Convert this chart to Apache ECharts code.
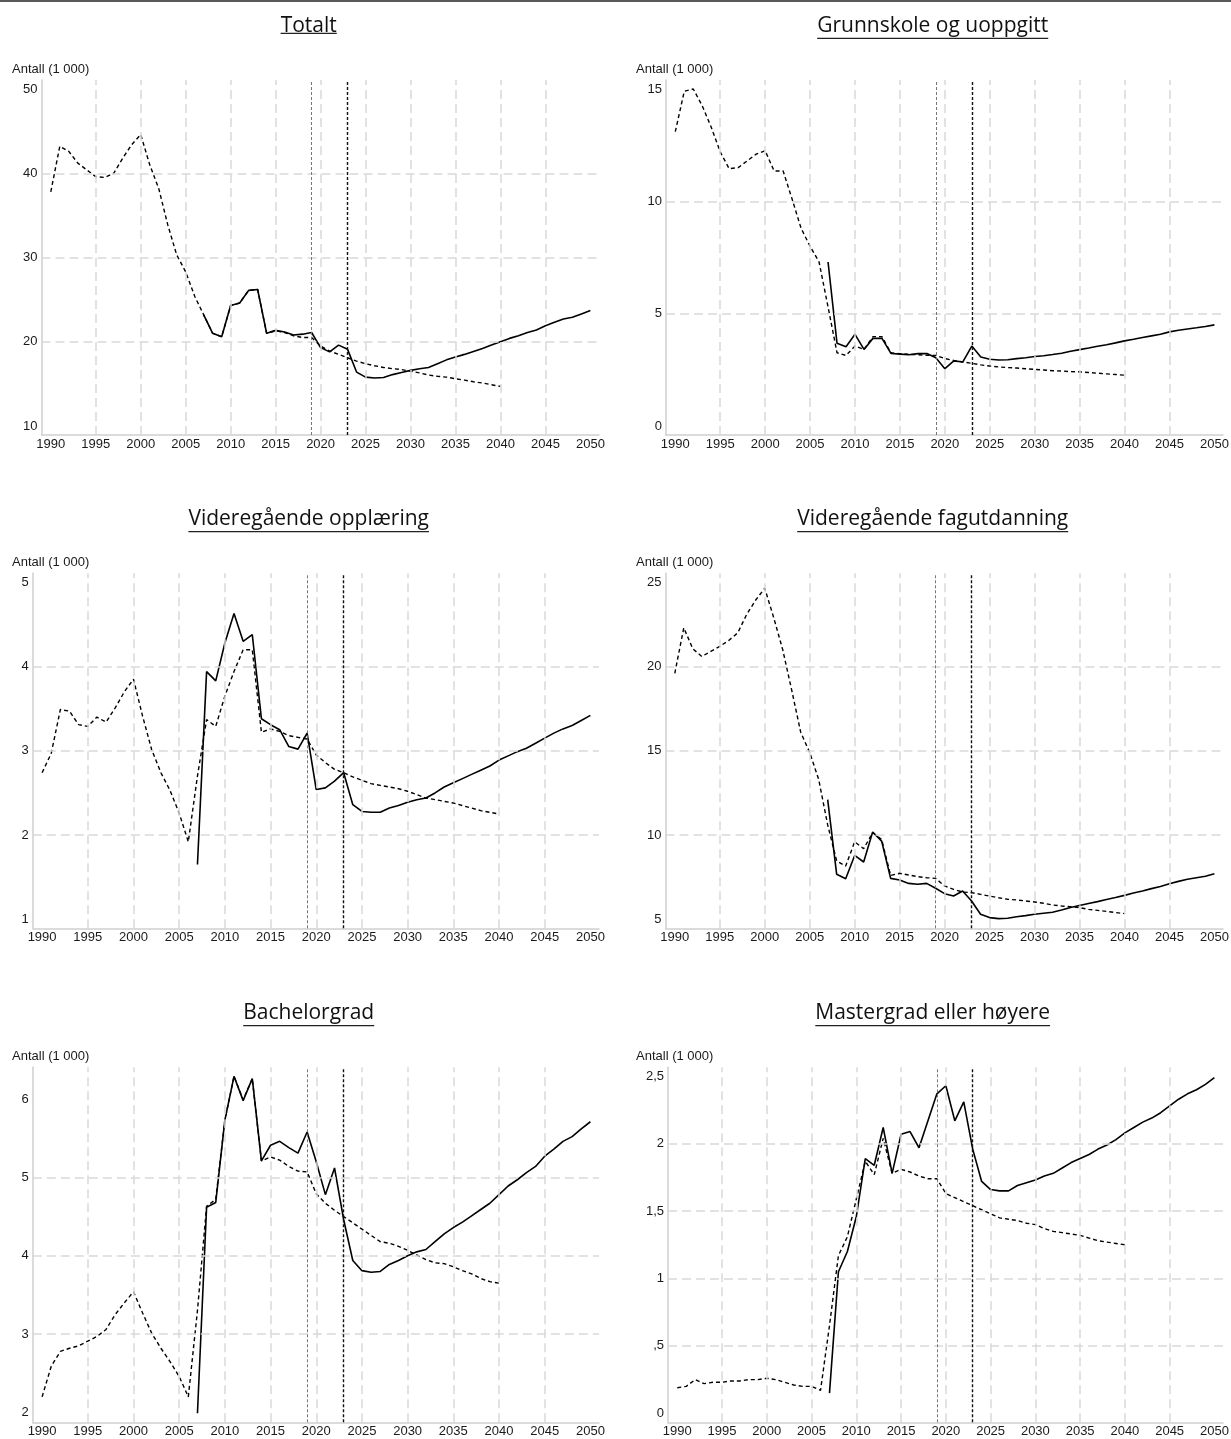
<!DOCTYPE html>
<html><head><meta charset="utf-8">
<script src="https://cdn.jsdelivr.net/npm/echarts@6/dist/echarts.min.js"></script>
<style>html,body{margin:0;padding:0;background:#fff}#c{width:1231px;height:1439px}</style>
</head><body><div id="c"></div>
<script>
// ---------- DATA ----------
const dashedYears = [1990,1991,1992,1993,1994,1995,1996,1997,1998,1999,2000,2001,2002,2003,2004,2005,2006,2007,2008,2009,2010,2011,2012,2013,2014,2015,2016,2017,2018,2019,2020,2021,2022,2023,2024,2025,2026,2027,2028,2029,2030,2031,2032,2033,2034,2035,2036,2037,2038,2039,2040];
const solidYears = [2007,2008,2009,2010,2011,2012,2013,2014,2015,2016,2017,2018,2019,2020,2021,2022,2023,2024,2025,2026,2027,2028,2029,2030,2031,2032,2033,2034,2035,2036,2037,2038,2039,2040,2041,2042,2043,2044,2045,2046,2047,2048,2049,2050];
const xTickLabels = [1990,1995,2000,2005,2010,2015,2020,2025,2030,2035,2040,2045,2050];
const xGridYears = [1995,2000,2005,2010,2015,2020,2025,2030,2035,2040,2045];
const refYears = [2019, 2023];
const titles = ['Totalt','Grunnskole og uoppgitt','Videregående opplæring','Videregående fagutdanning','Bachelorgrad','Mastergrad eller høyere'];
const yAxisName = 'Antall (1 000)';

const totaltTicks = [10,20,30,40,50];
const totaltDashed = [37.8,43.2,42.6,41.2,40.4,39.6,39.5,40.0,41.8,43.4,44.6,41.0,38.2,33.9,30.3,28.3,25.4,23.2,21.0,20.6,24.3,24.6,26.1,26.2,21.0,21.3,21.1,20.7,20.5,20.5,19.5,18.9,18.5,18.1,17.7,17.4,17.15,16.95,16.8,16.7,16.5,16.3,16.05,15.9,15.8,15.6,15.45,15.25,15.1,14.9,14.7];
const totaltSolid = [23.2,21.0,20.6,24.3,24.6,26.1,26.2,21.0,21.35,21.15,20.8,20.9,21.1,19.3,18.8,19.6,19.1,16.4,15.8,15.7,15.75,16.1,16.35,16.6,16.8,16.95,17.4,17.85,18.2,18.5,18.85,19.2,19.6,20.0,20.4,20.7,21.1,21.4,21.9,22.3,22.7,22.9,23.3,23.7];

const grunnTicks = [0,5,10,15];
const grunnDashed = [13.1,14.9,15.0,14.25,13.3,12.2,11.45,11.5,11.8,12.1,12.25,11.35,11.35,10.1,8.8,8.0,7.3,5.3,3.26,3.14,3.56,3.41,3.98,3.98,3.26,3.22,3.19,3.17,3.15,3.14,3.0,2.92,2.85,2.79,2.72,2.67,2.63,2.6,2.58,2.55,2.52,2.49,2.46,2.45,2.42,2.41,2.38,2.35,2.32,2.29,2.26];
const grunnSolid = [7.3,3.68,3.53,4.08,3.41,3.9,3.9,3.23,3.2,3.17,3.22,3.23,3.04,2.55,2.9,2.85,3.56,3.07,2.97,2.94,2.95,3.0,3.04,3.09,3.13,3.18,3.24,3.33,3.4,3.47,3.55,3.62,3.7,3.79,3.86,3.94,4.01,4.08,4.19,4.26,4.32,4.37,4.43,4.5];

const vgoTicks = [1,2,3,4,5];
const vgoDashed = [2.74,2.97,3.49,3.47,3.31,3.29,3.40,3.34,3.51,3.70,3.85,3.41,3.01,2.74,2.53,2.26,1.92,2.7,3.37,3.29,3.65,3.94,4.2,4.2,3.22,3.26,3.23,3.18,3.16,3.14,2.95,2.86,2.78,2.74,2.69,2.65,2.61,2.59,2.57,2.55,2.52,2.48,2.44,2.42,2.40,2.38,2.35,2.32,2.29,2.27,2.25];
const vgoSolid = [1.65,3.94,3.83,4.28,4.63,4.30,4.38,3.38,3.31,3.25,3.05,3.02,3.21,2.54,2.56,2.64,2.74,2.36,2.28,2.27,2.27,2.32,2.35,2.39,2.42,2.44,2.50,2.57,2.62,2.67,2.72,2.77,2.82,2.89,2.94,2.99,3.03,3.09,3.15,3.21,3.26,3.30,3.36,3.42];

const fagTicks = [5,10,15,20,25];
const fagDashed = [19.6,22.3,21.05,20.6,20.9,21.2,21.55,22.0,23.1,23.95,24.65,22.9,21.0,18.6,16.1,14.9,13.3,10.6,8.46,8.16,9.6,9.19,10.14,9.74,7.6,7.73,7.63,7.53,7.47,7.43,6.98,6.78,6.62,6.58,6.48,6.38,6.28,6.19,6.15,6.09,6.03,5.95,5.85,5.79,5.75,5.69,5.59,5.53,5.47,5.4,5.34];
const fagSolid = [12.1,7.67,7.41,8.79,8.4,10.18,9.64,7.43,7.33,7.13,7.08,7.13,6.84,6.52,6.38,6.68,6.09,5.3,5.1,5.04,5.06,5.15,5.22,5.3,5.36,5.42,5.55,5.7,5.82,5.94,6.05,6.17,6.29,6.42,6.56,6.68,6.82,6.95,7.11,7.25,7.38,7.47,7.56,7.7];

const bachTicks = [2,3,4,5,6];
const bachDashed = [2.2,2.59,2.78,2.82,2.85,2.91,2.97,3.06,3.25,3.40,3.54,3.27,3.01,2.82,2.65,2.46,2.2,3.3,4.63,4.72,5.73,6.29,5.99,6.26,5.21,5.26,5.22,5.14,5.08,5.07,4.79,4.67,4.58,4.5,4.42,4.34,4.26,4.18,4.16,4.12,4.07,4.01,3.95,3.91,3.9,3.86,3.81,3.77,3.71,3.67,3.65];
const bachSolid = [1.99,4.62,4.68,5.73,6.29,5.98,6.26,5.21,5.41,5.46,5.38,5.31,5.58,5.2,4.78,5.12,4.46,3.94,3.81,3.79,3.8,3.89,3.94,4.0,4.05,4.08,4.18,4.28,4.36,4.43,4.51,4.59,4.67,4.78,4.89,4.97,5.06,5.14,5.27,5.36,5.46,5.52,5.62,5.71];

const masterTicks = [0,0.5,1,1.5,2,2.5];
const masterDashed = [0.19,0.2,0.25,0.22,0.23,0.23,0.24,0.24,0.25,0.25,0.26,0.25,0.23,0.21,0.2,0.2,0.17,0.65,1.17,1.31,1.59,1.87,1.77,2.04,1.78,1.81,1.79,1.76,1.74,1.74,1.63,1.6,1.57,1.54,1.51,1.48,1.45,1.44,1.43,1.41,1.40,1.37,1.35,1.34,1.33,1.32,1.30,1.28,1.27,1.26,1.25];
const masterSolid = [0.15,1.05,1.2,1.46,1.89,1.84,2.12,1.78,2.07,2.09,1.97,2.17,2.37,2.43,2.17,2.31,1.96,1.72,1.66,1.65,1.65,1.69,1.71,1.73,1.76,1.78,1.82,1.86,1.89,1.92,1.96,1.99,2.03,2.08,2.12,2.16,2.19,2.23,2.28,2.33,2.37,2.40,2.44,2.49];

// ---------- LAYOUT ----------
const colX = [0, 624];
const rowY = [0, 493.3, 987.3];
const panels = [
  {title: titles[0], dashed: totaltDashed, solid: totaltSolid, ticks: totaltTicks, col: 0, row: 0, leftOff: 41.5},
  {title: titles[1], dashed: grunnDashed, solid: grunnSolid, ticks: grunnTicks, col: 1, row: 0, leftOff: 42},
  {title: titles[2], dashed: vgoDashed, solid: vgoSolid, ticks: vgoTicks, col: 0, row: 1, leftOff: 32.8},
  {title: titles[3], dashed: fagDashed, solid: fagSolid, ticks: fagTicks, col: 1, row: 1, leftOff: 41.5},
  {title: titles[4], dashed: bachDashed, solid: bachSolid, ticks: bachTicks, col: 0, row: 2, leftOff: 32.8},
  {title: titles[5], dashed: masterDashed, solid: masterSolid, ticks: masterTicks, col: 1, row: 2, leftOff: 44}
];
const PLOT_RIGHT = 599, PLOT_TOP = 80, PLOT_H = 355;
const TITLE_FONT_SIZE = 21, TITLE_FAMILY = "'Open Sans'";
const AX_FONT = 'Liberation Sans';

function fmtNo(v) {
  let s = String(v).replace('.', ',');
  if (s.startsWith('0,')) s = s.slice(1);
  return s;
}
const mctx = document.createElement('canvas').getContext('2d');
function measure(text, font) {
  mctx.font = font;
  mctx.textBaseline = 'alphabetic';
  const a = mctx.measureText(text);
  mctx.textBaseline = 'middle';
  const b = mctx.measureText(text);
  return {w: a.width, desc: Math.max(0, a.actualBoundingBoxDescent), midOff: a.actualBoundingBoxAscent - b.actualBoundingBoxAscent};
}

const grids = [], xAxes = [], yAxes = [], series = [], graphics = [];
graphics.push({type: 'line', shape: {x1: 0, y1: 1, x2: 1231, y2: 1}, style: {stroke: '#222', lineWidth: 1.6}, silent: true});

panels.forEach((p, i) => {
  const left = colX[p.col] + p.leftOff;
  const width = colX[p.col] + PLOT_RIGHT - left;
  const top = rowY[p.row] + PLOT_TOP;
  grids.push({left: left, top: top, width: width, height: PLOT_H, containLabel: false, outerBoundsMode: 'none'});
  const ppy = (width - 9.3 - 8.6) / 60;
  xAxes.push({
    type: 'value', gridIndex: i, min: 1990 - 9.3 / ppy, max: 2050 + 8.6 / ppy,
    axisLine: {show: true, onZero: false, lineStyle: {color: '#cfcfcf', width: 1.5}},
    axisTick: {show: false}, splitLine: {show: false},
    axisLabel: {customValues: xTickLabels, formatter: v => String(Math.round(v)), fontFamily: AX_FONT, fontSize: 13, color: '#1a1a1a', margin: 3, hideOverlap: false}
  });
  const all = p.ticks.concat(p.dashed, p.solid);
  const lo = Math.min.apply(null, all), hi = Math.max.apply(null, all);
  const ppu = (PLOT_H - 18) / (hi - lo);
  yAxes.push({
    type: 'value', gridIndex: i, min: lo - 9 / ppu, max: hi + 9 / ppu,
    axisLine: {show: true, onZero: false, lineStyle: {color: '#cfcfcf', width: 1.5}},
    axisTick: {show: false}, splitLine: {show: false},
    axisLabel: {customValues: p.ticks, formatter: v => fmtNo(Math.round(v * 100) / 100), fontFamily: AX_FONT, fontSize: 13, color: '#1a1a1a', margin: 4, hideOverlap: false}
  });
  const innerTicks = p.ticks.slice(1, -1);
  // grid lines
  series.push({
    type: 'line', xAxisIndex: i, yAxisIndex: i, data: [], z: 1, silent: true,
    markLine: {
      silent: true, symbol: ['none', 'none'], label: {show: false}, animation: false,
      lineStyle: {color: '#d9d9d9', width: 1.5, type: [9, 5]},
      emphasis: {disabled: true},
      data: xGridYears.map(y => ({xAxis: y})).concat(innerTicks.map(t => ({yAxis: t})))
    }
  });
  // reference lines
  series.push({
    type: 'line', xAxisIndex: i, yAxisIndex: i, data: [], z: 2, silent: true,
    markLine: {
      silent: true, symbol: ['none', 'none'], label: {show: false}, animation: false,
      emphasis: {disabled: true},
      data: [
        {xAxis: refYears[0], lineStyle: {color: '#777', width: 1, type: [3, 2]}},
        {xAxis: refYears[1], lineStyle: {color: '#111', width: 1.4, type: [3, 2]}}
      ]
    }
  });
  series.push({
    type: 'line', xAxisIndex: i, yAxisIndex: i, z: 3, silent: true, showSymbol: false, symbol: 'none',
    data: dashedYears.map((y, k) => [y, p.dashed[k]]),
    lineStyle: {color: '#000', width: 1.4, type: [4, 3]}
  });
  series.push({
    type: 'line', xAxisIndex: i, yAxisIndex: i, z: 4, silent: true, showSymbol: false, symbol: 'none',
    data: solidYears.map((y, k) => [y, p.solid[k]]),
    lineStyle: {color: '#000', width: 1.6}
  });
  // title + underline
  const tFont = TITLE_FONT_SIZE + 'px ' + TITLE_FAMILY;
  const m = measure(p.title, tFont);
  const cx = colX[p.col] + 308.7;
  const baseline = rowY[p.row] + 31.7;
  graphics.push({type: 'text', x: cx, y: baseline - m.midOff, silent: true,
    style: {text: p.title, font: tFont, fill: '#111', textAlign: 'center', textVerticalAlign: 'middle', align: 'center', verticalAlign: 'middle'}});
  const uy = baseline + m.desc + 1.6;
  graphics.push({type: 'line', silent: true, shape: {x1: cx - m.w / 2, y1: uy, x2: cx + m.w / 2, y2: uy}, style: {stroke: '#222', lineWidth: 1.3}});
  // y axis name
  graphics.push({type: 'text', x: colX[p.col] + 12, y: top - 10.8, silent: true,
    style: {text: yAxisName, font: '13px ' + AX_FONT, fill: '#1a1a1a', textAlign: 'left', textVerticalAlign: 'middle', align: 'left', verticalAlign: 'middle'}});
});

const chart = echarts.init(document.getElementById('c'), null, {renderer: 'canvas', width: 1231, height: 1439});
chart.setOption({
  animation: false,
  backgroundColor: '#fff',
  grid: grids, xAxis: xAxes, yAxis: yAxes, series: series, graphic: graphics
});
</script></body></html>
